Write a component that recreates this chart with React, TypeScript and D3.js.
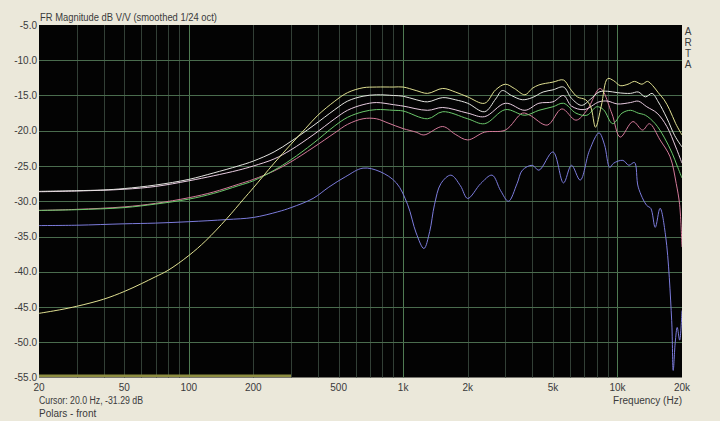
import React from 'react';
import * as d3 from 'd3';

const W = 720;
const H = 421;
const PLOT = { left: 39, right: 682, top: 25, bottom: 377.5 };

const yTickValues = [-5, -10, -15, -20, -25, -30, -35, -40, -45, -50, -55];
const xTickValues = [20, 50, 100, 200, 500, 1000, 2000, 5000, 10000, 20000];
const xTickLabels = ['20', '50', '100', '200', '500', '1k', '2k', '5k', '10k', '20k'];
const majorGrid = [100, 1000, 10000];
const rangeBar = [20, 300];

type P = [number, number];

// Steep curve (starts low, top at HF) - yellow
const seriesA: P[] = [
  [20, -45.9], [25, -45.4], [30, -44.9], [40, -43.9], [50, -42.8], [60, -41.7], [70, -40.7], [80, -39.8],
  [100, -37.7], [120, -35.6], [150, -32.5], [180, -29.7], [200, -28.1], [250, -24.6], [300, -21.9],
  [350, -19.7], [400, -17.8], [480, -15.8], [550, -14.6], [650, -13.9], [750, -13.8], [900, -13.8],
  [1000, -13.8], [1150, -14.3], [1300, -14.7], [1530, -14.0], [1750, -14.5], [2000, -15.2], [2400, -16.1],
  [2700, -14.2], [3000, -13.4], [3300, -14.0], [3700, -14.9], [4000, -14.0], [4300, -13.5], [5000, -13.1],
  [5600, -12.8], [6000, -14.0], [6500, -15.2], [7100, -15.6], [7500, -16.6], [7900, -19.5], [8400, -16.5],
  [9000, -12.6], [9600, -12.9], [10300, -13.6], [11200, -13.4], [12000, -13.0], [13000, -13.4],
  [13800, -13.0], [14600, -13.6], [15500, -14.6], [16500, -15.6], [17500, -17.0], [18700, -19.0], [20000, -20.6],
];

// White
const seriesB: P[] = [
  [20, -28.6], [30, -28.5], [40, -28.4], [50, -28.2], [70, -27.7], [100, -26.9], [130, -26.0], [170, -25.0],
  [200, -24.3], [250, -23.0], [300, -21.5], [380, -19.3], [480, -17.0], [550, -15.8], [650, -15.1],
  [750, -14.9], [900, -15.0], [1000, -15.1], [1150, -15.6], [1300, -15.9], [1530, -15.3], [1750, -15.6],
  [2000, -16.1], [2400, -17.3], [2700, -15.5], [2900, -14.3], [3200, -15.0], [3600, -15.6], [4000, -15.3],
  [4500, -14.5], [5000, -14.2], [5600, -13.8], [6100, -15.4], [6800, -16.4], [7500, -15.5], [8200, -14.5],
  [9000, -14.4], [10000, -14.6], [11500, -14.7], [12500, -14.5], [13500, -15.2], [14500, -14.7],
  [15500, -15.9], [17000, -18.2], [18500, -20.7], [20000, -22.3],
];

// Light pinkish white
const seriesC: P[] = [
  [20, -28.65], [30, -28.55], [50, -28.3], [70, -27.9], [100, -27.1], [130, -26.4], [170, -25.6],
  [200, -25.0], [250, -24.0], [300, -22.7], [380, -20.6], [480, -18.3], [550, -17.1], [650, -16.3],
  [750, -16.0], [900, -16.3], [1000, -16.5], [1300, -17.1], [1530, -16.7], [2000, -17.5], [2400, -18.0],
  [3000, -16.1], [3700, -17.1], [4300, -16.1], [5000, -15.9], [5600, -15.0], [6100, -16.5], [7000, -17.0],
  [8200, -15.9], [9000, -15.8], [10000, -16.2], [11500, -16.0], [12500, -15.8], [13700, -16.6],
  [15300, -17.5], [17000, -19.4], [18700, -22.3], [20000, -24.6],
];

// Green
const seriesD: P[] = [
  [20, -31.3], [30, -31.2], [50, -30.9], [70, -30.4], [100, -29.7], [130, -28.9], [170, -27.8],
  [200, -27.1], [250, -25.6], [300, -24.1], [380, -21.8], [480, -19.3], [550, -18.1], [650, -17.3],
  [750, -17.0], [900, -17.1], [1000, -17.2], [1300, -18.3], [1530, -17.3], [2000, -18.3], [2400, -19.0],
  [3000, -17.0], [3700, -17.8], [4300, -17.1], [5000, -16.6], [5600, -16.1], [6400, -17.5], [7200, -17.8],
  [8000, -16.6], [8600, -17.0], [9500, -19.0], [10500, -17.5], [11500, -17.1], [12500, -17.5],
  [13500, -17.8], [15000, -19.0], [16500, -20.9], [18000, -23.2], [19000, -25.0], [20000, -26.7],
];

// Pink
const seriesE: P[] = [
  [20, -31.3], [30, -31.15], [50, -30.8], [70, -30.3], [100, -29.5], [130, -28.7], [170, -27.6],
  [200, -26.9], [250, -25.7], [300, -24.4], [380, -22.4], [480, -20.3], [550, -19.1], [650, -18.3],
  [750, -18.3], [850, -18.9], [1000, -19.7], [1150, -20.2], [1250, -20.6], [1530, -19.4], [1750, -20.5],
  [2000, -21.3], [2400, -20.2], [3000, -19.9], [3600, -17.5], [3900, -17.8], [4700, -19.2], [5500, -16.9],
  [6400, -18.5], [7200, -17.1], [8300, -14.0], [9400, -17.5], [10300, -20.9], [11800, -18.7],
  [13100, -19.9], [14100, -19.0], [15800, -21.3], [17600, -23.7], [18800, -27.5], [19500, -30.5], [20000, -36.5],
];

// Blue
const seriesF: P[] = [
  [20, -33.45], [30, -33.4], [50, -33.2], [70, -33.1], [100, -32.9], [150, -32.6], [200, -32.3],
  [260, -31.5], [300, -30.9], [380, -29.6], [450, -28.0], [540, -26.5], [650, -25.3], [780, -25.8],
  [930, -27.4], [1050, -30.5], [1150, -34.5], [1250, -36.7], [1330, -34.3], [1400, -30.5], [1500, -27.5],
  [1670, -26.3], [1850, -27.8], [2000, -29.6], [2300, -27.5], [2600, -26.3], [2850, -28.5], [3100, -30.0],
  [3400, -27.5], [3600, -25.6], [4000, -24.9], [4300, -25.6], [5000, -23.0], [5600, -27.4], [6100, -24.9],
  [6700, -27.0], [7400, -22.8], [8200, -20.3], [8700, -22.0], [9200, -25.2], [9600, -24.6],
  [10600, -24.2], [11300, -24.9], [12000, -24.5], [12500, -28.0], [13700, -30.6], [14300, -31.0],
  [15000, -33.7], [15800, -31.0], [16800, -35.1], [17900, -46.9], [18200, -54.0], [18600, -50.0],
  [19000, -47.9], [19500, -49.7], [20000, -45.5],
];

const seriesList: { data: P[]; color: string }[] = [
  { data: seriesF, color: '#7c7cdc' },
  { data: seriesE, color: '#d47a9a' },
  { data: seriesD, color: '#6cc86c' },
  { data: seriesC, color: '#e8cce0' },
  { data: seriesB, color: '#e4e4e0' },
  { data: seriesA, color: '#e0e092' },
];

const artaLabel = 'ARTA';

export default function App() {
  const x = d3.scaleLog().domain([20, 20000]).range([PLOT.left, PLOT.right]);
  const y = d3.scaleLinear().domain([-55, -5]).range([PLOT.bottom, PLOT.top]);
  const line = d3
    .line<P>()
    .x((d) => x(d[0]))
    .y((d) => y(d[1]))
    .curve(d3.curveCatmullRom.alpha(0.5));

  const gridX = x.ticks().filter((f) => f > 20 && f < 20000);
  const font = "'Liberation Sans', Arial, sans-serif";
  const textColor = '#3a3a3a';

  return (
    <svg
      width={W}
      height={H}
      style={{ position: 'absolute', left: 0, top: 0, display: 'block' }}
      fontFamily={font}
    >
      <rect x={0} y={0} width={W} height={H} fill="#ebe8da" />
      <defs>
        <clipPath id="plotClip">
          <rect x={PLOT.left} y={PLOT.top} width={PLOT.right - PLOT.left} height={PLOT.bottom - PLOT.top} />
        </clipPath>
      </defs>
      <rect
        x={PLOT.left}
        y={PLOT.top}
        width={PLOT.right - PLOT.left}
        height={PLOT.bottom - PLOT.top}
        fill="#030303"
      />
      {gridX.map((f) => (
        <line
          key={'gx' + f}
          x1={Math.round(x(f)) + 0.5}
          x2={Math.round(x(f)) + 0.5}
          y1={PLOT.top}
          y2={PLOT.bottom}
          stroke={majorGrid.includes(f) ? '#4f7a52' : '#323f36'}
          strokeWidth={1}
        />
      ))}
      {yTickValues
        .filter((v) => v > -55 && v < -5)
        .map((v) => (
          <line
            key={'gy' + v}
            x1={PLOT.left}
            x2={PLOT.right}
            y1={Math.round(y(v)) + 0.5}
            y2={Math.round(y(v)) + 0.5}
            stroke="#4a6c4e"
            strokeWidth={1}
          />
        ))}
      <rect
        x={x(rangeBar[0])}
        y={PLOT.bottom - 3}
        width={x(rangeBar[1]) - x(rangeBar[0])}
        height={2.5}
        fill="#8e8e42"
      />
      <g clipPath="url(#plotClip)">
        {seriesList.map((s, i) => (
          <path key={i} d={line(s.data) || ''} fill="none" stroke={s.color} strokeWidth={1} />
        ))}
      </g>
      <text x={40} y={21} fontSize={10.5} fill={textColor} textLength={177} lengthAdjust="spacingAndGlyphs">
        FR Magnitude dB V/V (smoothed 1/24 oct)
      </text>
      {yTickValues.map((v) => (
        <text key={'yt' + v} x={37} y={y(v) + 3.5} fontSize={10} fill={textColor} textAnchor="end">
          {v.toFixed(1)}
        </text>
      ))}
      {xTickValues.map((f, i) => (
        <text key={'xt' + f} x={x(f)} y={391} fontSize={10} fill={textColor} textAnchor="middle">
          {xTickLabels[i]}
        </text>
      ))}
      <text x={39} y={404} fontSize={10} fill={textColor} textLength={104} lengthAdjust="spacingAndGlyphs">
        Cursor: 20.0 Hz, -31.29 dB
      </text>
      <text x={39} y={416.5} fontSize={10} fill={textColor}>
        Polars - front
      </text>
      <text x={682} y={404} fontSize={10} fill={textColor} textAnchor="end">
        Frequency (Hz)
      </text>
      <text
        x={688}
        y={26}
        fontSize={10}
        fill={textColor}
        style={{ writingMode: 'vertical-rl', textOrientation: 'upright' } as React.CSSProperties}
      >
        {artaLabel}
      </text>
    </svg>
  );
}
